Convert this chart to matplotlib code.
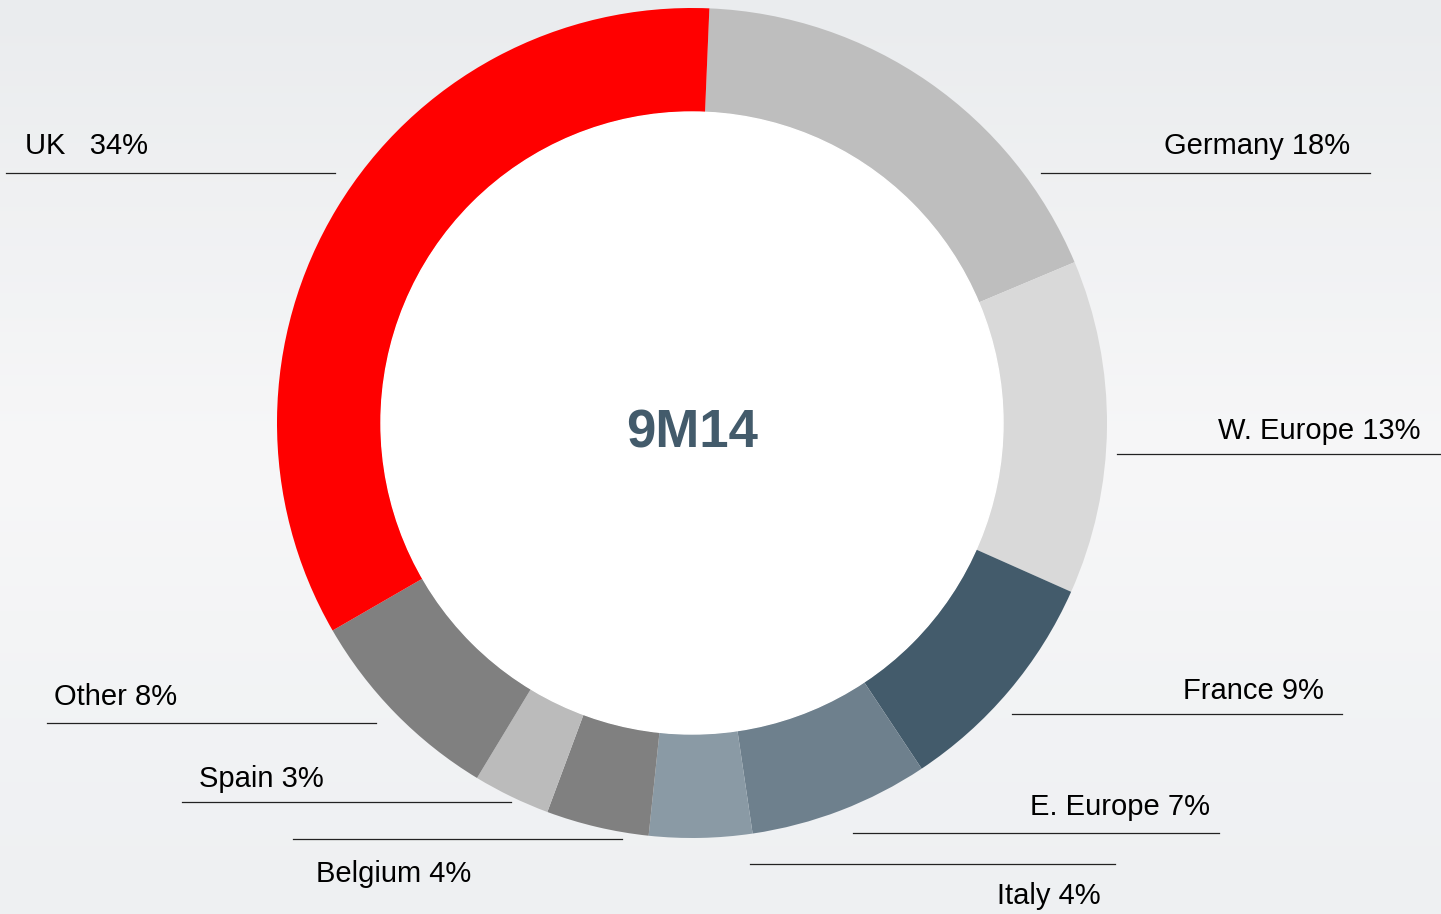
import numpy as np
import matplotlib.pyplot as plt
from matplotlib.patches import Circle
from matplotlib.colors import LinearSegmentedColormap

# data, clockwise from the top
regions = ["Germany", "W. Europe", "France", "E. Europe", "Italy",
           "Belgium", "Spain", "Other", "UK"]
shares = [18, 13, 9, 7, 4, 4, 3, 8, 34]
colors = ["#bebebe", "#d9d9d9", "#435b6b", "#6e808d", "#8a9aa5",
          "#808080", "#bbbbbb", "#808080", "#ff0000"]
center_title = "9M14"

# label layout in pixel coords (x, baseline y, align, line x0, line x1, line y)
layout = {
    "UK":        (25, 154, "left", 6, 335, 173),
    "Germany":   (1350, 154, "right", 1041, 1370, 173),
    "W. Europe": (1421, 439, "right", 1117, 1441, 454),
    "France":    (1324, 699, "right", 1012, 1342, 714),
    "E. Europe": (1210, 815, "right", 853, 1219, 833),
    "Italy":     (1101, 904, "right", 750, 1115, 864),
    "Belgium":   (316, 882, "left", 293, 622, 839),
    "Spain":     (199, 787, "left", 182, 511, 802),
    "Other":     (54, 705, "left", 47, 376, 723),
}

W, H = 1441, 914
fig = plt.figure(figsize=(W / 100, H / 100), dpi=100)
ax = fig.add_axes([0, 0, 1, 1])

# soft grey backdrop
bg = LinearSegmentedColormap.from_list("bg", ["#eaecee", "#f7f7f8", "#eef0f2"])
grad = np.linspace(0, 1, 256).reshape(-1, 1)
ax.imshow(grad, cmap=bg, extent=[0, W, 0, H], aspect="auto", zorder=0)

cx, cy = 692, H - 423
r_out, ring = 415, 104
ax.pie(shares, colors=colors, startangle=87.6, counterclock=False,
       center=(cx, cy), radius=r_out,
       wedgeprops=dict(width=ring, edgecolor="none", linewidth=0))
ax.add_patch(Circle((cx, cy), r_out - ring, color="white", zorder=3))

ax.text(cx, H - 447, center_title, ha="center", va="baseline",
        fontsize=38, fontweight="bold", color="#435b6b",
        family="Liberation Sans", zorder=4)

for name, val in zip(regions, shares):
    tx, ty, ha, x0, x1, ly = layout[name]
    sep = "   " if name == "UK" else " "
    ax.text(tx, H - ty, f"{name}{sep}{val}%", ha=ha, va="baseline",
            fontsize=21, color="black", family="Liberation Sans", zorder=4)
    ax.plot([x0, x1], [H - ly, H - ly], color="#222222", lw=0.9, zorder=4)

ax.set_xlim(0, W)
ax.set_ylim(0, H)
ax.set_aspect("equal")
ax.axis("off")

fig.savefig("out.png", dpi=100)
